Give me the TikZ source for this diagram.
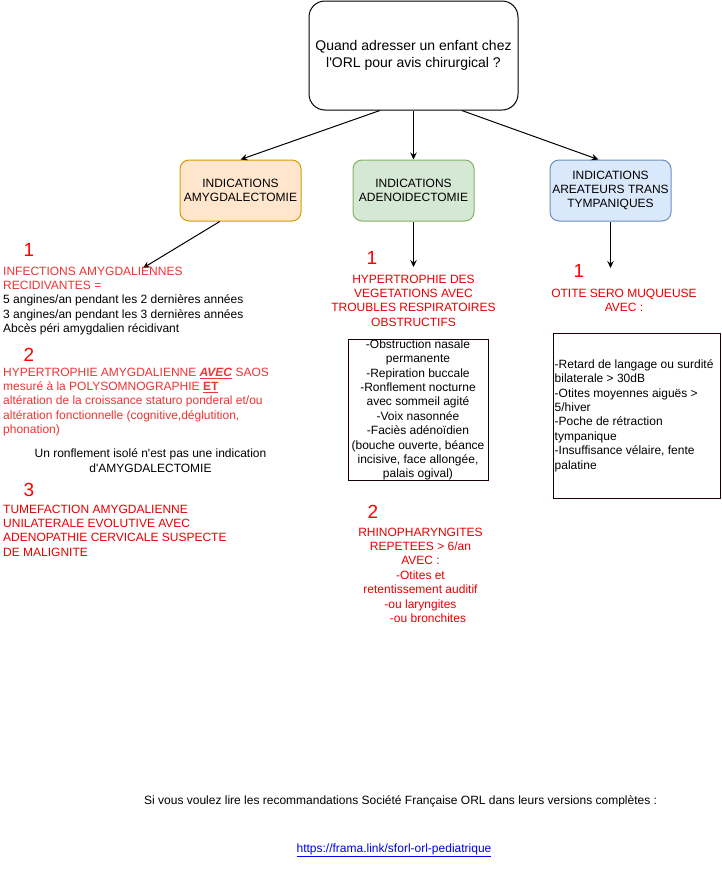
\documentclass[tikz,border=0pt]{standalone}
\usepackage{fontspec}
\setmainfont{Liberation Sans}
\usetikzlibrary{arrows.meta,calc}
\definecolor{redA}{HTML}{F03333}
\definecolor{redB}{HTML}{E80000}
\definecolor{numred}{HTML}{FF0000}
\definecolor{orfill}{HTML}{FFE6CC}
\definecolor{ordraw}{HTML}{D79B00}
\definecolor{grfill}{HTML}{D5E8D4}
\definecolor{grdraw}{HTML}{82B366}
\definecolor{blfill}{HTML}{DAE8FC}
\definecolor{bldraw}{HTML}{6C8EBF}
\definecolor{boxdraw}{HTML}{1A0000}
\definecolor{linkblue}{HTML}{0000EE}
\tikzset{
  every node/.style={inner sep=0pt, font=\fontsize{12}{14.4}\selectfont},
  hdr/.style={draw, line width=1pt, rounded corners=9pt, minimum width=121pt, minimum height=61pt, align=center},
  num/.style={text=numred, font=\fontsize{19}{22}\selectfont},
  arr/.style={line width=1pt, -{Stealth[length=7pt,width=6.5pt,inset=2.5pt]}},
  listbox/.style={draw=boxdraw, line width=1pt}
}
\begin{document}
\begin{tikzpicture}[x=1pt,y=-1pt]
\fill[white] (0,0) rectangle (721,871);
\path[use as bounding box] (0,0) rectangle (721,871);

% top question box
\node[draw, line width=1pt, rounded corners=16pt, minimum width=209pt, minimum height=109pt,
      align=center, font=\fontsize{14}{16.8}\selectfont] (top) at (413.5,55.5)
  {Quand adresser un enfant chez\\l\textquotesingle ORL pour avis chirurgical ?};

% indication boxes
\node[hdr, fill=orfill, draw=ordraw] (b1) at (240.5,190.5) {INDICATIONS\\AMYGDALECTOMIE};
\node[hdr, fill=grfill, draw=grdraw] (b2) at (413.5,190.5) {INDICATIONS\\ADENOIDECTOMIE};
\node[hdr, fill=blfill, draw=bldraw] (b3) at (610.5,190.5) {INDICATIONS\\AREATEURS TRANS\\TYMPANIQUES};

% arrow targets
\coordinate (t1) at (143,268);
\coordinate (t2) at (413.5,267);
\coordinate (t3) at (610.5,268);

% connectors
\draw[arr] ($(top.south west)!0.34!(top.south east)$) -- (b1.north);
\draw[arr] (top.south) -- (b2.north);
\draw[arr] ($(top.south west)!0.73!(top.south east)$) -- ($(b3.north west)!0.4!(b3.north east)$);
\draw[arr] ($(b1.south west)!0.33!(b1.south east)$) -- (t1);
\draw[arr] (b2.south) -- (t2);
\draw[arr] (b3.south) -- (t3);

% ---------- left column ----------
\node[num] (n11) at (29,250) {1};
\node[anchor=north west, align=left, text=redA] (s11) at (3,266.6)
  {INFECTIONS AMYGDALIENNES\\RECIDIVANTES =\\
   \textcolor{black}{5 angines/an pendant les 2 dernières années}\\
   \textcolor{black}{3 angines/an pendant les 3 dernières années}\\
   \textcolor{black}{Abcès péri amygdalien récidivant}};

\node[num] (n12) at (29,355) {2};
\node[anchor=north west, align=left, text=redA] (s12) at (3,367.6)
  {HYPERTROPHIE AMYGDALIENNE \underline{\textbf{\textit{AVEC}}} SAOS\\
   mesuré à la POLYSOMNOGRAPHIE \underline{\textbf{ET}}\\
   altération de la croissance staturo ponderal et/ou\\
   altération fonctionnelle (cognitive,déglutition,\\
   phonation)};

\node[anchor=north, align=center] (note) at (150.5,448.6)
  {Un ronflement isolé n\textquotesingle est pas une indication\\d\textquotesingle AMYGDALECTOMIE};

\node[num] (n13) at (29,490) {3};
\node[anchor=north west, align=left, text=redB] (s13) at (3,504.6)
  {TUMEFACTION AMYGDALIENNE\\UNILATERALE EVOLUTIVE AVEC\\ADENOPATHIE CERVICALE SUSPECTE\\DE MALIGNITE};

% ---------- middle column ----------
\node[num] (n21) at (372,258) {1};
\node[anchor=north, align=center, text=redB] (s21) at (413.5,274.6)
  {HYPERTROPHIE DES\\VEGETATIONS AVEC\\TROUBLES RESPIRATOIRES\\OBSTRUCTIFS};

\node[listbox, minimum width=140pt, minimum height=140pt, align=center] (mbox) at (418,410)
  {-Obstruction nasale\\permanente\\-Repiration buccale\\-Ronflement nocturne\\avec sommeil agité\\
   -Voix nasonnée\\-Faciès adénoïdien\\(bouche ouverte, béance\\incisive, face allongée,\\palais ogival)};

\node[num] (n22) at (373,512) {2};
\node[anchor=north, align=center, text=redB] (s22) at (420.5,527.6)
  {RHINOPHARYNGITES\\REPETEES > 6/an\\AVEC :\\-Otites et\\retentissement auditif\\-ou laryngites\\
   \hspace*{15pt}-ou bronchites};

% ---------- right column ----------
\node[num] (n31) at (579,271) {1};
\node[anchor=north, align=center, text=redB] (s31) at (624,288.6)
  {OTITE SERO MUQUEUSE\\AVEC :};

\node[listbox, minimum width=167.5pt, minimum height=165pt] (rbox) at (636.75,415.5) {};
\node[anchor=west, align=left] (rtext) at ($(rbox.west)+(2,0)$)
  {-Retard de langage ou surdité\\bilaterale > 30dB\\-Otites moyennes aiguës >\\5/hiver\\
   -Poche de rétraction\\tympanique\\-Insuffisance vélaire, fente\\palatine};

% ---------- footer ----------
\node[anchor=base west] (foot) at (144,804.3)
  {Si vous voulez lire les recommandations Société Française ORL dans leurs versions complètes :};
\node[anchor=base, text=linkblue] (link) at (394,852.3)
  {\underline{https://frama.link/sforl-orl-pediatrique}};
\end{tikzpicture}
\end{document}
